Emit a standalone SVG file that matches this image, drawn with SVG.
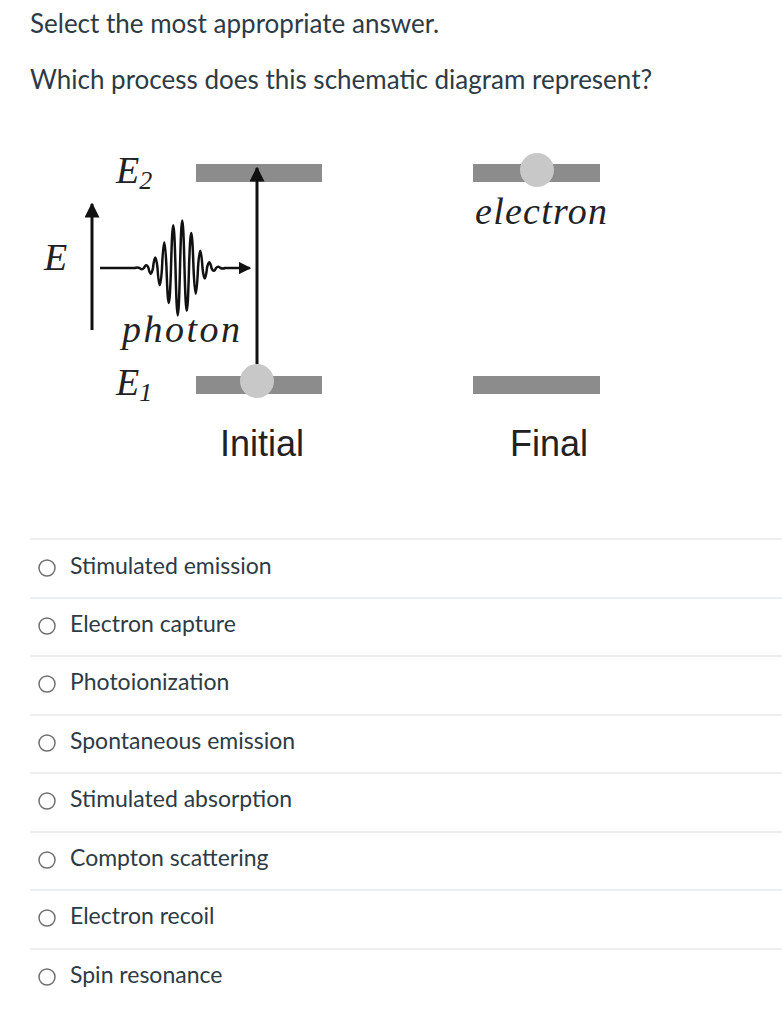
<svg xmlns="http://www.w3.org/2000/svg" width="782" height="1021" viewBox="0 0 782 1021">
<style>
.q{font-family:Lato,"Liberation Sans",sans-serif;font-size:26px;fill:#2d3b45}
.o{font-family:Lato,"Liberation Sans",sans-serif;font-size:23px;fill:#2d3b45}
.t{font-family:"Liberation Serif",serif;font-style:italic;font-size:38px;fill:#222}
.s{font-family:"Liberation Serif",serif;font-style:italic;font-size:26px;fill:#222}
.l{font-family:"Liberation Sans",sans-serif;font-size:36px;fill:#222}
.bar{fill:#8c8c8c}
.el{fill:#c8c8c8}
.rad{fill:#fff;stroke:#707070;stroke-width:1.5}
.sep{stroke:#d9dde0;stroke-width:1}
</style>
<defs><marker id="ah" viewBox="0 0 10 10" refX="9" refY="5" markerWidth="5" markerHeight="5" orient="auto"><path d="M0,0 L10,5 L0,10 z" fill="#111"/></marker></defs>
<rect width="782" height="1021" fill="#fff"/>
<text class="q" x="30" y="33">Select the most appropriate answer.</text>
<text class="q" x="30" y="89">Which process does this schematic diagram represent?</text>
<g id="initial">
<rect class="bar" x="196" y="164" width="126" height="18"/>
<rect class="bar" x="196" y="376" width="126" height="18"/>
<circle class="el" cx="257" cy="381" r="17"/>
<text class="t" x="116" y="183">E<tspan class="s" dy="6">2</tspan></text>
<text class="t" x="44" y="270">E</text>
<text class="t" x="122" y="342" textLength="118">photon</text>
<text class="t" x="116" y="395">E<tspan class="s" dy="6">1</tspan></text>
<text class="l" x="220" y="456">Initial</text>
</g>
<g id="final">
<rect class="bar" x="473" y="164" width="127" height="18"/>
<rect class="bar" x="473" y="376" width="127" height="18"/>
<circle class="el" cx="537" cy="170" r="17"/>
<text class="t" x="475" y="224" textLength="132">electron</text>
<text class="l" x="510" y="456">Final</text>
</g>
<g id="connectors" fill="none" stroke="#111">
<line x1="257" y1="364" x2="257" y2="168" stroke-width="3" marker-end="url(#ah)"/>
<line x1="92" y1="330" x2="92" y2="204" stroke-width="3" marker-end="url(#ah)"/>
<path stroke-width="2.5" marker-end="url(#ah)" d="M100,268 L135,268 Q137.25,267 139.5,268 Q141.75,270.4 144,268 Q146.25,262.4 148.5,268 Q150.75,279.4 153,268 Q155.25,247.2 157.5,268 Q159.75,302.4 162,268 Q164.25,216.4 166.5,268 Q168.75,338 171,268 Q173.25,182.4 175.5,268 Q177.75,362.8 180,268 Q182.25,173.2 184.5,268 Q186.75,353.6 189,268 Q191.25,198 193.5,268 Q195.75,319.6 198,268 Q200.25,233.6 202.5,268 Q204.75,288.8 207,268 Q209.25,256.6 211.5,268 Q213.75,273.6 216,268 Q218.25,265.6 220.5,268 Q222.75,269 225,268 L250,268"/>
</g>
<g id="options">
<line class="sep" x1="30" y1="539" x2="782" y2="539"/>
<line class="sep" x1="30" y1="598" x2="782" y2="598"/>
<line class="sep" x1="30" y1="656" x2="782" y2="656"/>
<line class="sep" x1="30" y1="715" x2="782" y2="715"/>
<line class="sep" x1="30" y1="773" x2="782" y2="773"/>
<line class="sep" x1="30" y1="832" x2="782" y2="832"/>
<line class="sep" x1="30" y1="890" x2="782" y2="890"/>
<line class="sep" x1="30" y1="949" x2="782" y2="949"/>
<circle class="rad" cx="47" cy="568" r="8"/><text class="o" x="70" y="574">Stimulated emission</text>
<circle class="rad" cx="47" cy="626" r="8"/><text class="o" x="70" y="632">Electron capture</text>
<circle class="rad" cx="47" cy="684" r="8"/><text class="o" x="70" y="690">Photoionization</text>
<circle class="rad" cx="47" cy="743" r="8"/><text class="o" x="70" y="749">Spontaneous emission</text>
<circle class="rad" cx="47" cy="801" r="8"/><text class="o" x="70" y="807">Stimulated absorption</text>
<circle class="rad" cx="47" cy="860" r="8"/><text class="o" x="70" y="866">Compton scattering</text>
<circle class="rad" cx="47" cy="918" r="8"/><text class="o" x="70" y="924">Electron recoil</text>
<circle class="rad" cx="47" cy="977" r="8"/><text class="o" x="70" y="983">Spin resonance</text>
</g>
</svg>
